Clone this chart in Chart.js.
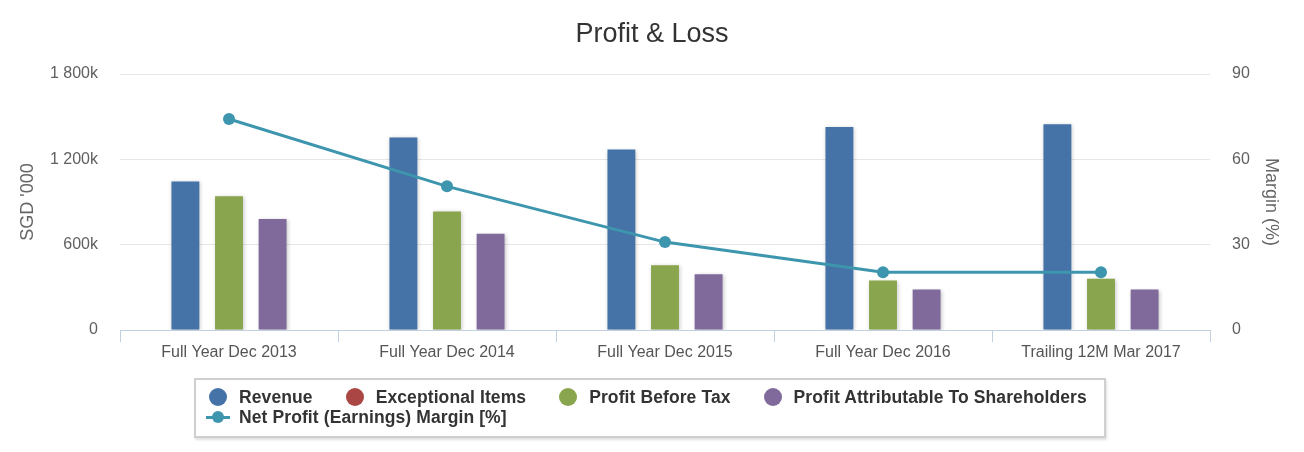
<!DOCTYPE html>
<html>
<head>
<meta charset="utf-8">
<title>Profit &amp; Loss</title>
<script src="https://cdn.jsdelivr.net/npm/chart.js@4.4.1/dist/chart.umd.min.js"></script>
<style>
  html, body { margin:0; padding:0; background:#fff; }
  #wrap { position:relative; width:1304px; height:452px; }
  #legend {
    position:absolute; left:194px; top:378px; width:908px;
    border:2px solid #cfcfcf; box-shadow:1px 2px 2px rgba(0,0,0,.12); background:#fff;
    font:bold 17.5px "Liberation Sans", Arial, sans-serif; color:#333; letter-spacing:0.1px;
    padding-top:7px; box-sizing:content-box; height:49px;
  }
  .row { display:flex; align-items:center; height:20px; padding-left:13px; white-space:nowrap; }
  .item { display:flex; align-items:center; margin-right:33px; }
  .dot { width:18px; height:18px; border-radius:50%; margin-right:12px; }
  .lmark { position:relative; width:24px; height:3px; margin-left:-3px; margin-right:9px; }
  .lmark span { position:absolute; left:6px; top:-4.5px; width:12px; height:12px; border-radius:50%; }
</style>
</head>
<body>
<div id="wrap">
  <canvas id="chart" width="1304" height="452"></canvas>
  <div id="legend"></div>
</div>
<script>
// values (SGD '000, shown in k) and margin in %
const categories = ['Full Year Dec 2013','Full Year Dec 2014','Full Year Dec 2015','Full Year Dec 2016','Trailing 12M Mar 2017'];
const revenue        = [1045, 1354, 1269, 1428, 1447];
const exceptional    = [null, null, null, null, null];
const profitBefTax   = [940, 834, 455, 348, 360];
const profitToShare  = [780, 677, 392, 284, 284];
const netMargin      = [74.2, 50.5, 30.9, 20.3, 20.3];
const leftTicks  = [0, 600, 1200, 1800];
const rightTicks = [0, 30, 60, 90];

const FONT = '"Liberation Sans", Arial, sans-serif';
Chart.defaults.font.family = FONT;

const barSeries = [
  {name:'Revenue',                           data:revenue,       color:'#4572a7'},
  {name:'Exceptional Items',                 data:exceptional,   color:'#aa4643'},
  {name:'Profit Before Tax',                 data:profitBefTax,  color:'#89a54e'},
  {name:'Profit Attributable To Shareholders', data:profitToShare, color:'#80699b'}
];
const lineSeries = {name:'Net Profit (Earnings) Margin [%]', data:netMargin, color:'#3d96ae'};

function fmtK(v) {
  if (v === 0) return '0';
  return String(v).replace(/\B(?=(\d{3})+(?!\d))/g, ' ') + 'k';
}

// soft shadow under the columns, like the original
const barShadow = {
  id: 'barShadow',
  beforeDatasetDraw(chart, args) {
    if (args.meta.type !== 'bar') return;
    const c = chart.ctx;
    c.save();
    c.shadowColor = 'rgba(0,0,0,0.22)';
    c.shadowBlur = 4;
    c.shadowOffsetX = 1;
    c.shadowOffsetY = 1;
  },
  afterDatasetDraw(chart, args) {
    if (args.meta.type !== 'bar') return;
    chart.ctx.restore();
  }
};

const datasets = barSeries.map(s => ({
  type:'bar', label:s.name, data:s.data, backgroundColor:s.color,
  borderWidth:0, yAxisID:'y', order:1, skipNull:true,
  categoryPercentage:0.6, barPercentage:0.64
}));
datasets.push({
  type:'line', label:lineSeries.name, data:lineSeries.data,
  borderColor:lineSeries.color, backgroundColor:lineSeries.color,
  borderWidth:3, pointRadius:6, pointHoverRadius:6, pointBorderWidth:0,
  pointBackgroundColor:lineSeries.color, tension:0, yAxisID:'y1', order:0
});

new Chart(document.getElementById('chart'), {
  type:'bar',
  data:{ labels:categories, datasets },
  plugins:[barShadow],
  options:{
    responsive:false, animation:false,
    layout:{ padding:{ left:0, right:0, top:0, bottom:82 } },
    plugins:{
      legend:{ display:false },
      tooltip:{ enabled:false },
      title:{
        display:true, text:'Profit & Loss', color:'#333',
        font:{ size:27, weight:'normal', family:FONT },
        padding:{ top:18, bottom:23.6 }
      }
    },
    scales:{
      x:{
        grid:{ offset:true, drawOnChartArea:false, drawTicks:true, tickLength:12, color:'#c0d0e0' },
        border:{ color:'#c0d0e0', width:1 },
        ticks:{ color:'#555', font:{ size:16 }, padding:1, maxRotation:0, autoSkip:false },
        afterFit(s) { s.height = 40; }
      },
      y:{
        position:'left', min:0, max:1800,
        grid:{ color:'#e6e6e6', drawTicks:false },
        border:{ display:false },
        ticks:{ color:'#606060', font:{ size:16 }, padding:22, callback:v => fmtK(v) },
        afterBuildTicks(s) { s.ticks = leftTicks.map(v => ({ value:v })); },
        title:{ display:true, text:"SGD '000", color:'#666', font:{ size:18 }, padding:{ top:17 } },
        afterFit(s) { s.width = 120; }
      },
      y1:{
        position:'right', min:0, max:90,
        grid:{ drawOnChartArea:false, drawTicks:false },
        border:{ display:false },
        ticks:{ color:'#606060', font:{ size:16 }, padding:22 },
        afterBuildTicks(s) { s.ticks = rightTicks.map(v => ({ value:v })); },
        title:{ display:true, text:'Margin (%)', color:'#666', font:{ size:18 }, padding:{ top:22 } },
        afterFit(s) { s.width = 94; }
      }
    }
  }
});

// html legend in a bordered box, built from the same series
const lg = document.getElementById('legend');
const row1 = document.createElement('div'); row1.className = 'row';
barSeries.forEach(s => {
  const it = document.createElement('div'); it.className = 'item';
  const d = document.createElement('div'); d.className = 'dot'; d.style.background = s.color;
  const t = document.createElement('span'); t.textContent = s.name;
  it.appendChild(d); it.appendChild(t); row1.appendChild(it);
});
const row2 = document.createElement('div'); row2.className = 'row';
const it2 = document.createElement('div'); it2.className = 'item';
const lm = document.createElement('div'); lm.className = 'lmark'; lm.style.background = lineSeries.color;
const ld = document.createElement('span'); ld.style.background = lineSeries.color; lm.appendChild(ld);
const t2 = document.createElement('span'); t2.textContent = lineSeries.name;
it2.appendChild(lm); it2.appendChild(t2); row2.appendChild(it2);
lg.appendChild(row1); lg.appendChild(row2);
</script>
</body>
</html>
